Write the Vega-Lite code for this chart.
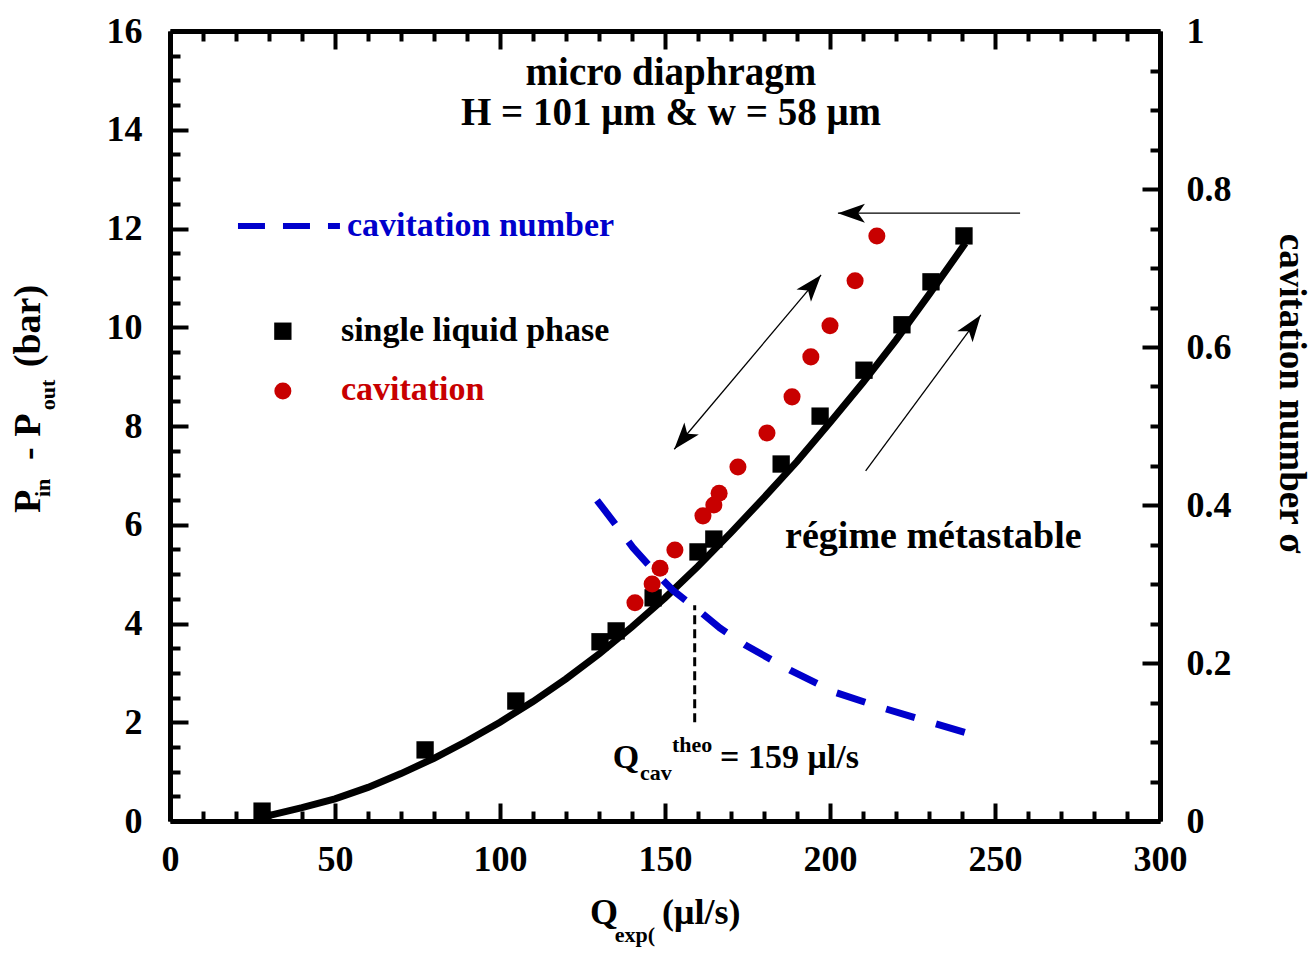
{
  "$schema": "https://vega.github.io/schema/vega-lite/v6.json",
  "width": 990,
  "height": 790,
  "autosize": {"type": "none"},
  "padding": {"left": 170, "top": 31, "right": 153, "bottom": 133},
  "config": {
    "view": {"stroke": null},
    "text": {"font": "Liberation Serif", "fontWeight": "bold"},
    "axis": {"labelFont": "Liberation Serif", "titleFont": "Liberation Serif", "labelFontWeight": "bold", "titleFontWeight": "bold", "labelColor": "black", "titleColor": "black", "grid": false, "labelOverlap": false, "tickColor": "black", "tickWidth": 4, "domainColor": "black", "domainWidth": 5, "labelFlush": false}
  },
  "datasets": {
    "fit": [
      {"q": 28, "p": 0.08}, {"q": 40, "p": 0.27}, {"q": 50, "p": 0.45}, {"q": 60, "p": 0.68},
      {"q": 70, "p": 0.96}, {"q": 80, "p": 1.27}, {"q": 90, "p": 1.62}, {"q": 100, "p": 2.0},
      {"q": 110, "p": 2.42}, {"q": 120, "p": 2.88}, {"q": 130, "p": 3.38}, {"q": 140, "p": 3.93},
      {"q": 150, "p": 4.52}, {"q": 160, "p": 5.16}, {"q": 170, "p": 5.84}, {"q": 180, "p": 6.55},
      {"q": 190, "p": 7.28}, {"q": 200, "p": 8.07}, {"q": 210, "p": 8.88}, {"q": 220, "p": 9.74},
      {"q": 230, "p": 10.66}, {"q": 241, "p": 11.7}
    ],
    "single": [
      {"q": 27.9, "p": 0.2}, {"q": 77.3, "p": 1.44}, {"q": 104.8, "p": 2.43}, {"q": 130.3, "p": 3.63},
      {"q": 135.2, "p": 3.85}, {"q": 146.4, "p": 4.52}, {"q": 160, "p": 5.45}, {"q": 164.8, "p": 5.71},
      {"q": 185.2, "p": 7.23}, {"q": 197, "p": 8.2}, {"q": 210.3, "p": 9.13}, {"q": 221.8, "p": 10.05},
      {"q": 230.6, "p": 10.92}, {"q": 240.6, "p": 11.85}
    ],
    "cav": [
      {"q": 140.9, "p": 4.42}, {"q": 146.1, "p": 4.8}, {"q": 148.5, "p": 5.12}, {"q": 153, "p": 5.49},
      {"q": 161.5, "p": 6.18}, {"q": 164.8, "p": 6.4}, {"q": 166.4, "p": 6.64}, {"q": 172.1, "p": 7.17},
      {"q": 180.9, "p": 7.86}, {"q": 188.5, "p": 8.59}, {"q": 194.2, "p": 9.4}, {"q": 200, "p": 10.03},
      {"q": 207.6, "p": 10.94}, {"q": 214.2, "p": 11.85}
    ],
    "sigma": [
      {"q": 129.4, "s": 0.406}, {"q": 135.8, "s": 0.371}, {"q": 140.3, "s": 0.346}, {"q": 147, "s": 0.315},
      {"q": 152.4, "s": 0.292}, {"q": 161.2, "s": 0.263}, {"q": 166.7, "s": 0.244}, {"q": 174.2, "s": 0.223},
      {"q": 187.9, "s": 0.191}, {"q": 201.5, "s": 0.163}, {"q": 215.2, "s": 0.144}, {"q": 241.8, "s": 0.111}
    ]
  },
  "resolve": {"scale": {"y": "independent"}, "axis": {"x": "independent", "y": "independent"}},
  "layer": [
    {
      "data": {"name": "fit"},
      "mark": {"type": "line", "opacity": 0},
      "encoding": {
        "x": {"field": "q", "type": "quantitative", "scale": {"domain": [0, 300], "nice": false},
          "axis": {"orient": "bottom", "title": null, "labels": false, "domain": false, "tickSize": {"expr": "-10"},
            "values": [10,20,30,40,60,70,80,90,110,120,130,140,160,170,180,190,210,220,230,240,260,270,280,290]}},
        "y": {"field": "p", "type": "quantitative", "scale": {"domain": [0, 16], "nice": false},
          "axis": {"orient": "left", "title": null, "labels": false, "domain": false, "tickSize": {"expr": "-10"},
            "values": [0.5,1,1.5,2.5,3,3.5,4.5,5,5.5,6.5,7,7.5,8.5,9,9.5,10.5,11,11.5,12.5,13,13.5,14.5,15,15.5]}}
      }
    },
    {
      "data": {"name": "sigma"},
      "mark": {"type": "line", "opacity": 0},
      "encoding": {
        "x": {"field": "q", "type": "quantitative", "scale": {"domain": [0, 300], "nice": false},
          "axis": {"orient": "top", "title": null, "labels": false, "domain": false, "tickSize": {"expr": "-10"},
            "values": [10,20,30,40,60,70,80,90,110,120,130,140,160,170,180,190,210,220,230,240,260,270,280,290]}},
        "y": {"field": "s", "type": "quantitative", "scale": {"domain": [0, 1], "nice": false},
          "axis": {"orient": "right", "title": null, "labels": false, "domain": false, "tickSize": {"expr": "-10"},
            "values": [0.05,0.1,0.15,0.25,0.3,0.35,0.45,0.5,0.55,0.65,0.7,0.75,0.85,0.9,0.95]}}
      }
    },
    {
      "layer": [
        {
          "data": {"name": "single"},
          "mark": {"type": "point", "shape": "square", "filled": true, "size": 300, "color": "black", "opacity": 1},
          "encoding": {
            "x": {"field": "q", "type": "quantitative", "scale": {"domain": [0, 300], "nice": false},
              "axis": {"orient": "bottom", "title": null, "values": [0,50,100,150,200,250,300],
                "tickSize": {"expr": "-18"}, "labelFontSize": 36, "labelPadding": 39, "labelOverlap": false, "labelBaseline": "top"}},
            "y": {"field": "p", "type": "quantitative", "scale": {"domain": [0, 16], "nice": false},
              "axis": {"orient": "left", "title": null, "values": [0,2,4,6,8,10,12,14,16],
                "tickSize": {"expr": "-18"}, "labelFontSize": 36, "labelPadding": 46, "labelOverlap": false}}
          }
        },
        {
          "data": {"name": "fit"},
          "mark": {"type": "line", "color": "black", "strokeWidth": 7},
          "encoding": {"x": {"field": "q", "type": "quantitative"}, "y": {"field": "p", "type": "quantitative"}}
        },
        {
          "data": {"name": "cav"},
          "mark": {"type": "point", "shape": "circle", "filled": true, "size": 290, "color": "#c80000", "opacity": 1},
          "encoding": {"x": {"field": "q", "type": "quantitative"}, "y": {"field": "p", "type": "quantitative"}}
        },
        {
          "data": {"values": [{"q": 34.2, "p": 9.92}]},
          "mark": {"type": "point", "shape": "square", "filled": true, "size": 300, "color": "black", "opacity": 1},
          "encoding": {"x": {"field": "q", "type": "quantitative"}, "y": {"field": "p", "type": "quantitative"}}
        },
        {
          "data": {"values": [{"q": 34.2, "p": 8.71}]},
          "mark": {"type": "point", "shape": "circle", "filled": true, "size": 290, "color": "#c80000", "opacity": 1},
          "encoding": {"x": {"field": "q", "type": "quantitative"}, "y": {"field": "p", "type": "quantitative"}}
        },
        {
          "data": {"values": [{"q": 20.6, "q2": 51.5, "p": 12.05}]},
          "mark": {"type": "rule", "color": "#0000cc", "strokeWidth": 6, "strokeDash": [27, 18]},
          "encoding": {"x": {"field": "q", "type": "quantitative"}, "x2": {"field": "q2"}, "y": {"field": "p", "type": "quantitative"}}
        },
        {
          "data": {"values": [{"q": 159, "p": 2.0, "p2": 4.37}]},
          "mark": {"type": "rule", "color": "black", "strokeWidth": 3, "strokeDash": [9, 5]},
          "encoding": {"x": {"field": "q", "type": "quantitative"}, "y": {"field": "p", "type": "quantitative"}, "y2": {"field": "p2"}}
        },
        {
          "data": {"values": [
            {"q": 257.6, "p": 12.31, "q2": 202.4, "p2": 12.31},
            {"q": 152.8, "p": 7.53, "q2": 197.3, "p2": 11.06},
            {"q": 210.8, "p": 7.09, "q2": 245.7, "p2": 10.25}
          ]},
          "mark": {"type": "rule", "color": "black", "strokeWidth": 1.3},
          "encoding": {"x": {"field": "q", "type": "quantitative"}, "y": {"field": "p", "type": "quantitative"}, "x2": {"field": "q2"}, "y2": {"field": "p2"}}
        },
        {
          "data": {"values": [
            {"q": 202.4, "p": 12.31, "dir": 270},
            {"q": 197.3, "p": 11.06, "dir": 40},
            {"q": 152.8, "p": 7.53, "dir": 220},
            {"q": 245.7, "p": 10.25, "dir": 36}
          ]},
          "mark": {"type": "point", "shape": "M0,0 L0.7,2 L0,1.5 L-0.7,2 Z", "filled": true, "size": 729, "color": "black", "opacity": 1},
          "encoding": {"x": {"field": "q", "type": "quantitative"}, "y": {"field": "p", "type": "quantitative"}, "angle": {"field": "dir", "type": "quantitative", "scale": null}}
        },
        {
          "data": {"values": [{"q": 151.8, "p": 14.91, "t": "micro diaphragm"}, {"q": 151.8, "p": 14.1, "t": "H = 101 μm & w = 58 μm"}]},
          "mark": {"type": "text", "fontSize": 39, "align": "center", "baseline": "alphabetic", "color": "black"},
          "encoding": {"x": {"field": "q", "type": "quantitative"}, "y": {"field": "p", "type": "quantitative"}, "text": {"field": "t"}}
        },
        {
          "data": {"values": [{"q": 186.4, "p": 5.53, "t": "régime métastable"}]},
          "mark": {"type": "text", "fontSize": 38, "align": "left", "baseline": "alphabetic", "color": "black"},
          "encoding": {"x": {"field": "q", "type": "quantitative"}, "y": {"field": "p", "type": "quantitative"}, "text": {"field": "t"}}
        },
        {
          "data": {"values": [{"q": 53.6, "p": 11.85, "t": "cavitation number"}]},
          "mark": {"type": "text", "fontSize": 34, "align": "left", "baseline": "alphabetic", "color": "#0000cc"},
          "encoding": {"x": {"field": "q", "type": "quantitative"}, "y": {"field": "p", "type": "quantitative"}, "text": {"field": "t"}}
        },
        {
          "data": {"values": [{"q": 51.8, "p": 9.72, "t": "single liquid phase"}]},
          "mark": {"type": "text", "fontSize": 34, "align": "left", "baseline": "alphabetic", "color": "black"},
          "encoding": {"x": {"field": "q", "type": "quantitative"}, "y": {"field": "p", "type": "quantitative"}, "text": {"field": "t"}}
        },
        {
          "data": {"values": [{"q": 51.8, "p": 8.53, "t": "cavitation"}]},
          "mark": {"type": "text", "fontSize": 34, "align": "left", "baseline": "alphabetic", "color": "#c80000"},
          "encoding": {"x": {"field": "q", "type": "quantitative"}, "y": {"field": "p", "type": "quantitative"}, "text": {"field": "t"}}
        },
        {
          "data": {"values": [{"q": 134.2, "p": 1.07, "t": "Q"}, {"q": 166.7, "p": 1.07, "t": "= 159 μl/s"}]},
          "mark": {"type": "text", "fontSize": 34, "align": "left", "baseline": "alphabetic", "color": "black"},
          "encoding": {"x": {"field": "q", "type": "quantitative"}, "y": {"field": "p", "type": "quantitative"}, "text": {"field": "t"}}
        },
        {
          "data": {"values": [{"q": 127.3, "p": -2.09, "t": "Q"}, {"q": 149.1, "p": -2.09, "t": "(μl/s)"}]},
          "mark": {"type": "text", "fontSize": 36, "align": "left", "baseline": "alphabetic", "color": "black"},
          "encoding": {"x": {"field": "q", "type": "quantitative"}, "y": {"field": "p", "type": "quantitative"}, "text": {"field": "t"}}
        },
        {
          "data": {"values": [{"q": 142.4, "p": 0.83, "t": "cav"}, {"q": 152.1, "p": 1.4, "t": "theo"}, {"q": 134.8, "p": -2.45, "t": "exp("}]},
          "mark": {"type": "text", "fontSize": 22, "align": "left", "baseline": "alphabetic", "color": "black"},
          "encoding": {"x": {"field": "q", "type": "quantitative"}, "y": {"field": "p", "type": "quantitative"}, "text": {"field": "t"}}
        },
        {
          "data": {"values": [{"q": -39.4, "p": 6.24, "t": "P"}, {"q": -39.4, "p": 7.31, "t": "-"}, {"q": -39.4, "p": 7.78, "t": "P"}, {"q": -39.4, "p": 9.19, "t": "(bar)"}]},
          "mark": {"type": "text", "fontSize": 38, "align": "left", "baseline": "alphabetic", "angle": 270, "color": "black"},
          "encoding": {"x": {"field": "q", "type": "quantitative"}, "y": {"field": "p", "type": "quantitative"}, "text": {"field": "t"}}
        },
        {
          "data": {"values": [{"q": -36.4, "p": 6.56, "t": "in"}, {"q": -35, "p": 8.32, "t": "out"}]},
          "mark": {"type": "text", "fontSize": 22, "align": "left", "baseline": "alphabetic", "angle": 270, "color": "black"},
          "encoding": {"x": {"field": "q", "type": "quantitative"}, "y": {"field": "p", "type": "quantitative"}, "text": {"field": "t"}}
        }
      ]
    },
    {
      "data": {"name": "sigma"},
      "mark": {"type": "line", "color": "#0000cc", "strokeWidth": 7, "strokeDash": [30, 22]},
      "encoding": {
        "x": {"field": "q", "type": "quantitative", "scale": {"domain": [0, 300], "nice": false},
          "axis": {"orient": "top", "title": null, "labels": false, "tickSize": {"expr": "-18"}, "values": [0,50,100,150,200,250,300]}},
        "y": {"field": "s", "type": "quantitative", "scale": {"domain": [0, 1], "nice": false},
          "axis": {"orient": "right", "title": "cavitation number σ", "titleFontSize": 37, "titleAngle": 90, "titlePadding": 40, "titleY": 362,
            "values": [0,0.2,0.4,0.6,0.8,1],
            "labelExpr": "toString(round(datum.value*10)/10)",
            "tickSize": {"expr": "-18"}, "labelFontSize": 36, "labelPadding": 44, "labelOverlap": false}}
      }
    }
  ]
}
